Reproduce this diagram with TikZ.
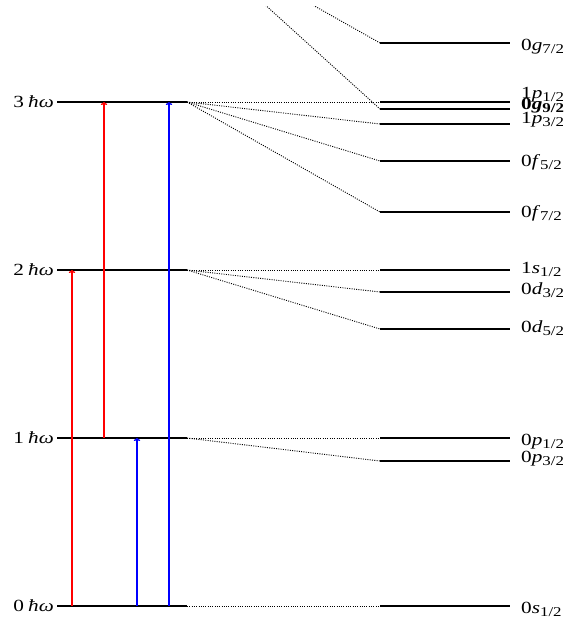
\documentclass[tikz,border=0pt]{standalone}
\usepackage{fontspec}
\usepackage{graphicx}
\setmainfont{Liberation Serif}
\usetikzlibrary{arrows.meta}
% widened label type
\newcommand{\wide}[1]{\scalebox{1.25}[1]{#1}}
% orbital label: principal number, letter, subscript j
\newcommand{\orb}[3]{\wide{#1\textit{#2}\raisebox{-0.2em}{\fontsize{13.5}{15}\selectfont #3}}}
% oscillator shell label
\newcommand{\hw}[1]{\wide{#1\hspace{0.2em}\textit{ħω}}}

\begin{document}
\begin{tikzpicture}[x=1pt,y=-1pt,
  level/.style={line width=2pt},
  link/.style={line width=0.9pt, dash pattern=on 1pt off 1.3pt},
  excite/.style={line width=1.3pt, -{To[length=3pt,width=6.5pt]}},
  shelllabel/.style={anchor=base east, inner sep=0pt, font=\fontsize{17}{20}\selectfont},
  orblabel/.style={anchor=base west, inner sep=0pt, font=\fontsize{17}{20}\selectfont}]
\useasboundingbox (0,0) rectangle (566,625);

% harmonic-oscillator shells
\foreach \n/\y in {0/606,1/438,2/270,3/102}{
  \coordinate (N\n w) at (57,\y);
  \coordinate (N\n e) at (187,\y);
  \draw[level] (N\n w) -- (N\n e);
  \node[shelllabel] (T\n) at (54,\y+5.2) {\hw{\n}};
}
\coordinate (N4e) at (187,-66);

% spin-orbit split levels
\foreach \name/\y in {s1/606, p3/461, p1/438, d5/329, d3/292, ss1/270,
                      f7/212, f5/161, pp3/124, g9/109, pp1/102, g7/43}{
  \coordinate (\name w) at (380,\y);
  \coordinate (\name e) at (510,\y);
  \draw[level] (\name w) -- (\name e);
}

% level labels
\node[orblabel] (Lg7)  at (521,50.5)  {\orb{0}{g}{7/2}};
\node[orblabel] (Lpp1) at (521,98.5)  {\orb{1}{p}{1/2}};
\node[orblabel,font=\fontsize{17}{20}\selectfont\bfseries] (Lg9) at (521,109.3) {\orb{0}{g}{9/2}};
\node[orblabel] (Lpp3) at (521,123.5) {\orb{1}{p}{3/2}};
\node[orblabel] (Lf5)  at (521,166.5) {\orb{0}{f}{5/2}};
\node[orblabel] (Lf7)  at (521,217.3) {\orb{0}{f}{7/2}};
\node[orblabel] (Lss1) at (521,273.3) {\orb{1}{s}{1/2}};
\node[orblabel] (Ld3)  at (521,294.3) {\orb{0}{d}{3/2}};
\node[orblabel] (Ld5)  at (521,332.3) {\orb{0}{d}{5/2}};
\node[orblabel] (Lp1)  at (521,445)   {\orb{0}{p}{1/2}};
\node[orblabel] (Lp3)  at (521,462.3) {\orb{0}{p}{3/2}};
\node[orblabel] (Ls1)  at (521,613.3) {\orb{0}{s}{1/2}};

% correlation lines
\draw[link] (N0e) -- (s1w);
\foreach \t in {p1,p3}{\draw[link] (N1e) -- (\t w);}
\foreach \t in {ss1,d3,d5}{\draw[link] (N2e) -- (\t w);}
\foreach \t in {pp1,pp3,f5,f7}{\draw[link] (N3e) -- (\t w);}
\begin{scope}
  \clip (0,6) rectangle (566,625);
  \foreach \t in {g9,g7}{\draw[link] (N4e) -- (\t w);}
\end{scope}

% excitations
\coordinate (a0) at (72,606);  \coordinate (a2) at (72,270);
\coordinate (b1) at (104,438); \coordinate (b3) at (104,102);
\coordinate (c0) at (137,606); \coordinate (c1) at (137,438);
\coordinate (d0) at (169,606); \coordinate (d3) at (169,102);
\draw[excite,red]  (a0) -- (a2);
\draw[excite,red]  (b1) -- (b3);
\draw[excite,blue] (c0) -- (c1);
\draw[excite,blue] (d0) -- (d3);
\end{tikzpicture}
\end{document}
